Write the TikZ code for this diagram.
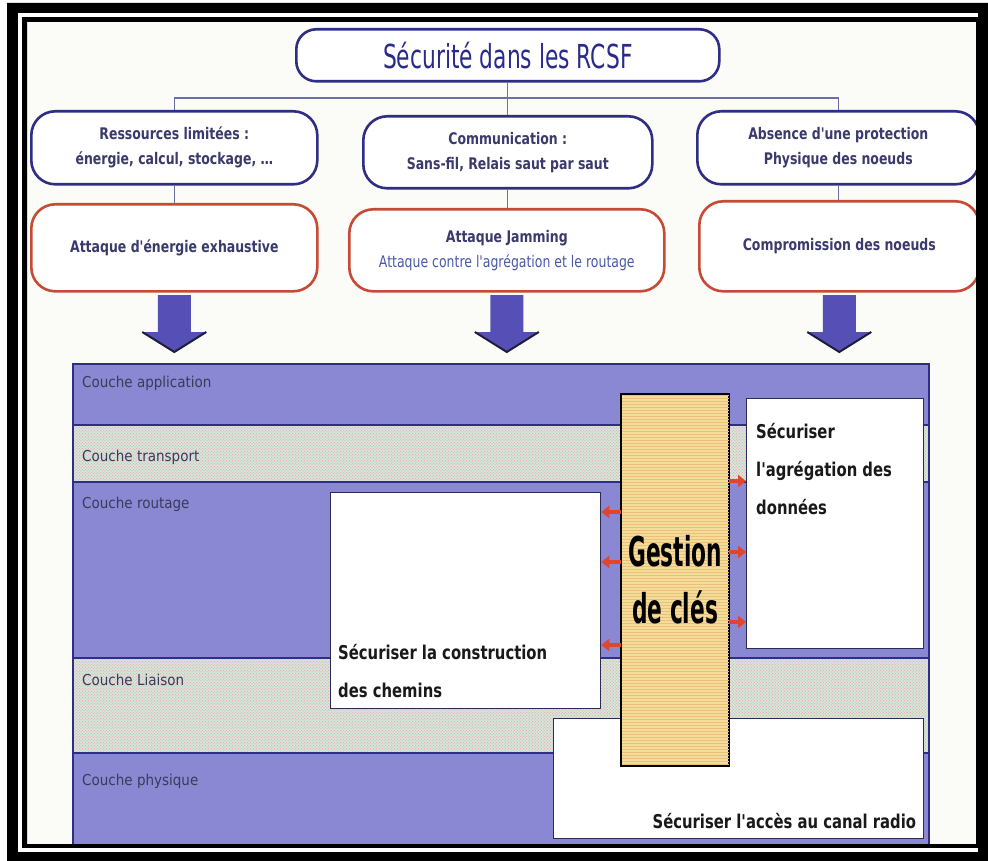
\documentclass[tikz,border=0pt]{standalone}
\usepackage{fontspec}
\setmainfont{DejaVu Sans}
\newfontfamily\titlefont[FakeStretch=0.66]{DejaVu Sans}
\newfontfamily\boxfont[FakeStretch=0.78]{DejaVu Sans}
\newfontfamily\layerfont[FakeStretch=0.9]{DejaVu Sans}
\newfontfamily\secfont[FakeStretch=0.78]{DejaVu Sans}
\newfontfamily\gkfont[FakeStretch=0.53]{DejaVu Sans}
\usetikzlibrary{arrows.meta,patterns,calc}

\definecolor{navy}{HTML}{2E2E84}
\definecolor{titleblue}{HTML}{2A2A8C}
\definecolor{redline}{HTML}{C64A35}
\definecolor{txtblue}{HTML}{3A3A6C}
\definecolor{midblue}{HTML}{4A58A8}
\definecolor{lav}{HTML}{8A88D2}
\definecolor{pastel}{HTML}{D6E8D2}
\definecolor{pastdot}{HTML}{F0A0C0}
\definecolor{pastdot2}{HTML}{A8BCF0}
\definecolor{keyfill}{HTML}{F6DC9A}
\definecolor{keygrid}{HTML}{E8C27A}
\definecolor{arrblue}{HTML}{5650B6}
\definecolor{arrdark}{HTML}{1E1E3C}
\definecolor{redarrow}{HTML}{E0462E}
\definecolor{linkline}{HTML}{6E6EA8}
\definecolor{pagebg}{HTML}{FBFBF7}
\definecolor{boxedge}{HTML}{2A2A55}
\definecolor{lbltext}{HTML}{3A3A5A}

\begin{document}
\begin{tikzpicture}[x=1pt,y=-1pt,
  rowbox/.style={draw=navy, line width=2.6pt, fill=white, rounded corners=24pt,
    anchor=north west, inner sep=2pt, align=center, text=txtblue,
    font=\boxfont\bfseries\fontsize{16}{25}\selectfont},
  attbox/.style={rowbox, draw=redline},
  link/.style={draw=linkline, line width=1.3pt},
  sepline/.style={draw=navy, line width=1.5pt},
  whitebox/.style={draw=boxedge, line width=1.3pt, fill=white, inner sep=0, anchor=north west},
  layerlbl/.style={anchor=base west, inner sep=0, text=lbltext,
    font=\layerfont\fontsize{15}{18}\selectfont},
  sectext/.style={inner sep=0, text=black!90, align=left,
    font=\secfont\bfseries\fontsize{19}{38}\selectfont},
  redarr/.style={draw=redarrow, line width=4pt, -{Triangle[length=8pt,width=12pt]}},
]
\useasboundingbox (0,0) rectangle (988,861);
\fill[white] (0,0) rectangle (988,861);
\fill[pagebg] (27,22) rectangle (976,844);

% title and the two rows of rounded boxes
\node[draw=navy, line width=2.6pt, fill=white, rounded corners=20pt, minimum width=423pt,
  minimum height=52pt, anchor=north west, text=titleblue,
  font=\titlefont\fontsize{33}{36}\selectfont] (title) at (295,28) {Sécurité dans les RCSF};

\node[rowbox, minimum width=286pt, minimum height=73pt] (res) at (30,110)
  {Ressources limitées :\\énergie, calcul, stockage, …};
\node[rowbox, minimum width=289pt, minimum height=72pt] (com) at (362,115)
  {Communication :\\Sans-fil, Relais saut par saut};
\node[rowbox, minimum width=282pt, minimum height=73pt] (abs) at (696,110)
  {Absence d'une protection\\Physique des noeuds};

\node[attbox, minimum width=286pt, minimum height=87pt] (att1) at (30,203)
  {Attaque d'énergie exhaustive};
\node[attbox, minimum width=315pt, minimum height=82pt] (att2) at (348,208)
  {Attaque Jamming\\{\mdseries\color{midblue}Attaque contre l'agrégation et le routage}};
\node[attbox, minimum width=280pt, minimum height=90pt] (att3) at (698,200)
  {Compromission des noeuds};

% tree connectors
\draw[link] (title.south) -- (title.south |- 0,98);
\draw[link] (res.north) -- (res.north |- 0,98) -- (abs.north |- 0,98) -- (abs.north);
\draw[link] (com.north) -- (com.north |- 0,98);
\draw[link] (res.south) -- (res.south |- att1.north);
\draw[link] (com.south) -- (com.south |- att2.north);
\draw[link] (abs.south) -- (abs.south |- att3.north);

% big downward arrows
\foreach \b in {att1,att2,att3}{
  \fill[arrblue] let \p1=(\b.south) in
    (\x1-16.5,295) -- (\x1+16.5,295) -- (\x1+16.5,332) -- (\x1+32,332)
    -- (\x1,352) -- (\x1-32,332) -- (\x1-16.5,332) -- cycle;
  \draw[arrdark, line width=2pt] let \p1=(\b.south) in
    (\x1-32,332) -- (\x1,352) -- (\x1+32,332);
}

% protocol layers
\fill[lav] (72,363) rectangle (928,425);
\fill[pastel] (72,425) rectangle (928,482);
\fill[pattern=crosshatch dots, pattern color=pastdot] (72,425) rectangle (928,482);
\fill[pattern=dots, pattern color=pastdot2] (72,425) rectangle (928,482);
\fill[lav] (72,482) rectangle (928,658);
\fill[pastel] (72,658) rectangle (928,753);
\fill[pattern=crosshatch dots, pattern color=pastdot] (72,658) rectangle (928,753);
\fill[pattern=dots, pattern color=pastdot2] (72,658) rectangle (928,753);
\fill[lav] (72,753) rectangle (928,845);
\node[draw=navy, line width=1.5pt, minimum width=856pt, minimum height=482pt,
  inner sep=0, anchor=north west] (stack) at (72,363) {};
\foreach \yy in {425,482,658,753}
  \draw[sepline] (stack.west |- 0,\yy) -- (stack.east |- 0,\yy);

\node[layerlbl] at (82,387) {Couche application};
\node[layerlbl] at (82,461) {Couche transport};
\node[layerlbl] at (82,508) {Couche routage};
\node[layerlbl] at (82,685) {Couche Liaison};
\node[layerlbl] at (82,785) {Couche physique};

% security services
\node[whitebox, minimum width=270pt, minimum height=216pt] (route) at (330,492) {};
\node[whitebox, minimum width=177pt, minimum height=250pt] (agg) at (746,398) {};
\node[whitebox, minimum width=370pt, minimum height=120pt] (radio) at (553,718) {};

\node[sectext, anchor=north west] at ([shift={(10pt,-25pt)}]agg.north west)
  {Sécuriser\\l'agrégation des\\données};
\node[sectext, anchor=north west] at ([shift={(8pt,65pt)}]route.south west)
  {Sécuriser la construction\\des chemins};
\node[sectext, anchor=base east] at ([shift={(-8pt,11pt)}]radio.south east)
  {Sécuriser l'accès au canal radio};

% key management
\node[draw=black, line width=1.2pt, fill=keyfill, minimum width=107pt, minimum height=371pt,
  anchor=north west, inner sep=0] (gkbox) at (621,394) {};
\fill[pattern=horizontal lines, pattern color=keygrid] (gkbox.north west) rectangle (gkbox.south east);
\draw[black, line width=1.2pt] (gkbox.north west) rectangle (gkbox.south east);
\node[align=center, inner sep=0, font=\gkfont\bfseries\fontsize{41}{57}\selectfont]
  (gk) at (gkbox.center) {Gestion\\de clés};

\foreach \yy in {512,562,645}
  \draw[redarr] (gkbox.west |- 0,\yy) -- (route.east |- 0,\yy);
\foreach \yy in {481,552,622}
  \draw[redarr] (gkbox.east |- 0,\yy) -- (agg.west |- 0,\yy);

% frame
\fill[black, even odd rule] (7,3) rectangle (988,861) (27,22) rectangle (976,844);
\draw[white, line width=4pt] (978,15) -- (20,15) -- (20,850) -- (978,850);
\end{tikzpicture}
\end{document}
